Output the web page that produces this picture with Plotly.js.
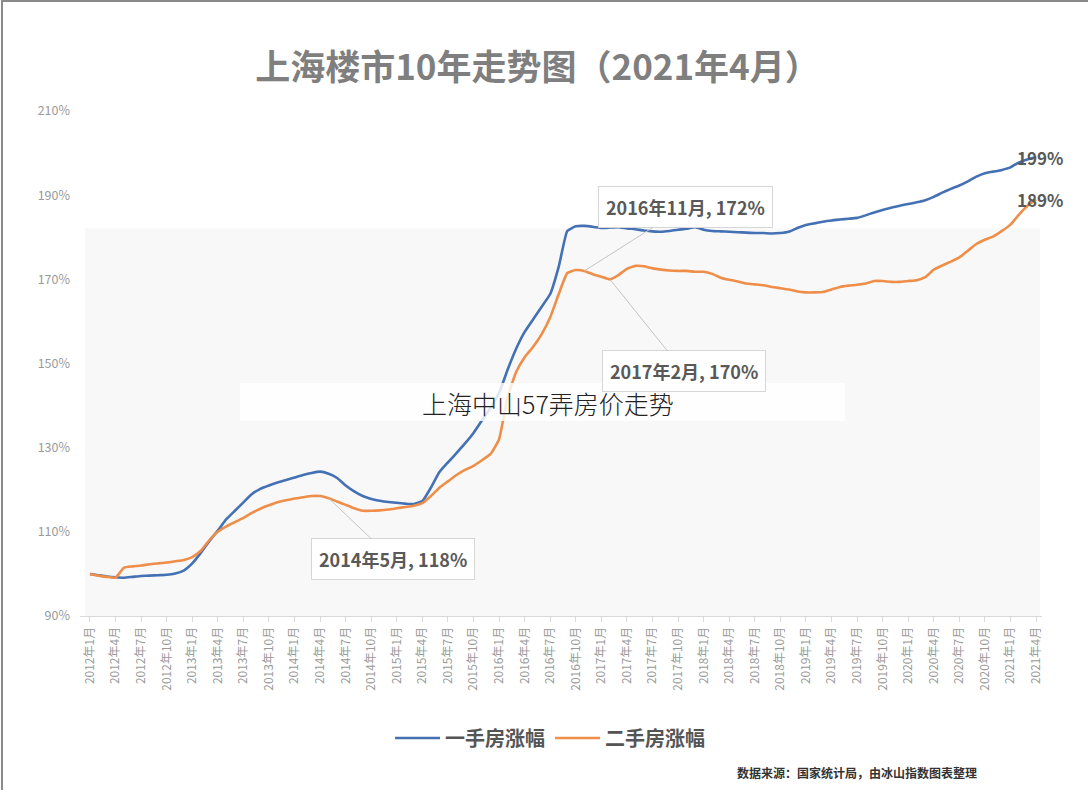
<!DOCTYPE html>
<html>
<head>
<meta charset="utf-8">
<script src="https://cdn.plot.ly/plotly-3.0.1.min.js"></script>
<style>
  html, body { margin: 0; padding: 0; background: #ffffff; }
  #chart { width: 1088px; height: 790px; }
</style>
</head>
<body>
<div id="chart"></div>
<script>
// ---- Data ----
const chartTitle = "上海楼市10年走势图（2021年4月）";
const seriesNames = ["一手房涨幅", "二手房涨幅"];

// monthly categories 2012年1月 .. 2021年4月
const startYear = 2012, monthCount = 112;
const months = [];
for (let i = 0; i < monthCount; i++) {
  const y = startYear + Math.floor(i / 12), m = (i % 12) + 1;
  months.push(y + "年" + m + "月");
}

const tickLabels = [
  "2012年1月","2012年4月","2012年7月","2012年10月",
  "2013年1月","2013年4月","2013年7月","2013年10月",
  "2014年1月","2014年4月","2014年7月","2014年10月",
  "2015年1月","2015年4月","2015年7月","2015年10月",
  "2016年1月","2016年4月","2016年7月","2016年10月",
  "2017年1月","2017年4月","2017年7月","2017年10月",
  "2018年1月","2018年4月","2018年7月","2018年10月",
  "2019年1月","2019年4月","2019年7月","2019年10月",
  "2020年1月","2020年4月","2020年7月","2020年10月",
  "2021年1月","2021年4月"
];

// 一手房涨幅 (%)
const firstHand = [
  100.0, 99.7, 99.4, 99.2, 99.1, 99.3, 99.5, 99.6, 99.7, 99.8, 100.1, 100.8,
  102.5, 105.0, 107.8, 110.3, 113.0, 115.0, 117.0, 119.0, 120.2, 121.0, 121.7, 122.3,
  122.9, 123.5, 124.0, 124.3, 123.8, 122.8, 121.0, 119.6, 118.5, 117.8, 117.4, 117.1,
  116.9, 116.7, 116.6, 117.3, 120.5, 124.2, 126.5, 128.7, 131.0, 133.5, 136.5, 139.5,
  143.0, 148.5, 153.5, 157.5, 160.5, 163.5, 166.5, 173.0, 181.5, 182.6, 182.7, 182.5,
  182.2, 182.3, 182.4, 182.1, 181.9, 181.6, 181.4, 181.3, 181.5, 181.8, 182.0, 182.4,
  181.8, 181.5, 181.4, 181.3, 181.2, 181.1, 181.0, 181.0, 180.9, 181.0, 181.3, 182.2,
  182.9, 183.3, 183.7, 184.0, 184.2, 184.4, 184.6, 185.2, 185.9, 186.5, 187.0, 187.5,
  187.9, 188.3, 188.8, 189.6, 190.6, 191.5, 192.3, 193.3, 194.4, 195.2, 195.6, 196.0,
  196.6, 197.8, 198.5, 199.0
];

// 二手房涨幅 (%)
const secondHand = [
  100.0, 99.6, 99.3, 99.1, 101.5, 101.8, 102.0, 102.3, 102.5, 102.7, 103.0, 103.3,
  104.0, 105.5, 108.0, 110.0, 111.3, 112.3, 113.3, 114.5, 115.5, 116.3, 117.0, 117.5,
  117.9, 118.2, 118.5, 118.5, 118.0, 117.2, 116.4, 115.6, 115.0, 115.0, 115.1, 115.3,
  115.6, 115.9, 116.2, 116.8, 118.5, 120.5, 122.0, 123.5, 124.7, 125.7, 127.0, 128.5,
  132.0, 142.0, 148.0, 151.5, 154.0, 157.0, 161.0, 166.5, 171.5, 172.2, 172.0, 171.2,
  170.6, 170.0, 171.0, 172.5, 173.2, 173.1, 172.6, 172.3, 172.1, 172.0, 172.0, 171.8,
  171.8, 171.3, 170.4, 169.9, 169.5, 169.0, 168.8, 168.6, 168.2, 167.9, 167.6, 167.1,
  166.9, 166.9, 167.0, 167.6, 168.2, 168.5, 168.7, 169.0, 169.6, 169.6, 169.4, 169.4,
  169.6, 169.8, 170.5, 172.3, 173.3, 174.2, 175.2, 176.8, 178.4, 179.4, 180.2, 181.5,
  183.0, 185.4, 187.5, 189.0
];

const yTicks = [90, 110, 130, 150, 170, 190, 210];

// callouts: [category, series index, text, offset x, offset y]
const callouts = [
  ["2016年11月", 1, "2016年11月, 172%", 101, -64],
  ["2017年2月", 1, "2017年2月, 170%", 74, 92],
  ["2014年5月", 1, "2014年5月, 118%", 64, 61]
];
const watermark = "上海中山57弄房价走势";
const sourceText = "数据来源：国家统计局，由冰山指数图表整理";

// ---- Drawing ----
const FONT = '"Noto Sans CJK SC", "Noto Sans", sans-serif';
const colors = ["#4470b4", "#ee8e48"];
const series = [firstHand, secondHand];

const traces = series.map((vals, k) => ({
  type: "scatter",
  mode: "lines",
  name: seriesNames[k],
  x: months,
  y: vals,
  line: { color: colors[k], width: 2.6, shape: "spline", smoothing: 0.4 },
  hoverinfo: "x+y"
}));

const annotations = callouts.map(c => ({
  x: c[0], y: series[c[1]][months.indexOf(c[0])],
  xref: "x", yref: "y",
  text: "<b>" + c[2] + "</b>",
  showarrow: true, arrowhead: 0, arrowwidth: 1, arrowcolor: "#c4c4c4",
  ax: c[3], ay: c[4],
  font: { family: FONT, size: 18, color: "#595959" },
  bgcolor: "#ffffff", bordercolor: "#d6d6d6", borderwidth: 1, borderpad: 7
}));

// end labels
[0, 1].forEach(k => {
  const last = series[k].length - 1;
  annotations.push({
    x: months[last], y: series[k][last], xref: "x", yref: "y",
    text: "<b>" + Math.round(series[k][last]) + "%</b>",
    showarrow: false, xanchor: "center", yanchor: "middle", xshift: 4, yshift: 0,
    font: { family: FONT, size: 17, color: "#595959" }
  });
});

// watermark text
annotations.push({
  x: 0.4865, y: 0.421, xref: "paper", yref: "paper",
  text: watermark, showarrow: false, xanchor: "center", yanchor: "middle",
  font: { family: FONT, size: 25, color: "#222222", weight: 300 }
});

// source text
annotations.push({
  x: 0.681, y: -0.309, xref: "paper", yref: "paper",
  text: "<b>" + sourceText + "</b>", showarrow: false, xanchor: "left", yanchor: "middle",
  font: { family: FONT, size: 12, color: "#333333" }
});

const shapes = [
  // faint grey panel behind the lower part of the plot
  { type: "rect", xref: "paper", yref: "paper", x0: 0.005, x1: 0.998, y0: 0, y1: 0.768,
    fillcolor: "#f8f8f8", line: { width: 0 }, layer: "below" },
  // translucent white band behind the watermark
  { type: "rect", xref: "paper", yref: "paper", x0: 0.1663, x1: 0.795, y0: 0.386, y1: 0.4614,
    fillcolor: "rgba(255,255,255,0.82)", line: { width: 0 }, layer: "above" },
  // picture frame lines (left and top)
  { type: "line", xref: "paper", yref: "paper", x0: -0.0811, x1: -0.0811, y0: -0.345, y1: 1.22,
    line: { color: "#8a8a8a", width: 2 } },
  { type: "line", xref: "paper", yref: "paper", x0: -0.0811, x1: 1.05, y0: 1.218, y1: 1.218,
    line: { color: "#8a8a8a", width: 2 } }
];

const layout = {
  width: 1088, height: 790,
  margin: { l: 80, r: 46, t: 111, b: 174 },
  paper_bgcolor: "#ffffff", plot_bgcolor: "rgba(0,0,0,0)",
  font: { family: FONT, color: "#8c8c8c" },
  title: {
    text: "<b>" + chartTitle + "</b>",
    x: 0.494, xanchor: "center", y: 0.914, yanchor: "middle",
    font: { family: FONT, size: 35, color: "#7f7f7f" }
  },
  xaxis: {
    type: "category",
    range: [-1.17, 111.7],
    tickmode: "array", tickvals: tickLabels, ticktext: tickLabels,
    tickangle: -90,
    tickfont: { family: FONT, size: 12, color: "#9a9a9a" },
    showgrid: false, zeroline: false,
    showline: true, linecolor: "#d9d9d9", linewidth: 1,
    ticks: "outside", ticklen: 5, tickcolor: "#d9d9d9"
  },
  yaxis: {
    range: [90, 210],
    tickmode: "array", tickvals: yTicks, ticktext: yTicks.map(v => v + "%"),
    tickfont: { family: FONT, size: 12.5, color: "#9a9a9a" },
    ticklabelstandoff: 9,
    showgrid: false, zeroline: false, showline: false, ticks: ""
  },
  showlegend: true,
  legend: {
    orientation: "h", x: 0.4886, xanchor: "center", y: -0.2416, yanchor: "middle",
    font: { family: FONT, size: 20, color: "#555555", weight: "bold" },
    itemwidth: 45, bgcolor: "rgba(0,0,0,0)"
  },
  annotations: annotations,
  shapes: shapes
};

Plotly.newPlot("chart", traces, layout, { displayModeBar: false, staticPlot: true });
</script>
</body>
</html>
